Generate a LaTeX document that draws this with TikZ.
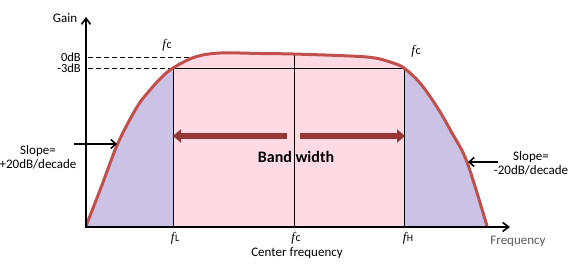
\documentclass[tikz,border=0pt]{standalone}
\usepackage{fontspec}
\setmainfont{Carlito}
\newfontfamily\serifit{Liberation Serif}
\usetikzlibrary{arrows.meta}
\definecolor{curvered}{RGB}{192,80,77}
\definecolor{lav}{RGB}{204,194,230}
\definecolor{pinkfill}{RGB}{253,218,228}
\definecolor{bwred}{RGB}{149,55,53}
\newcommand{\fsym}[2]{{\serifit\itshape\fontsize{13}{13}\selectfont f}\kern0.6pt{\fontsize{#2}{#2}\selectfont #1}}
\begin{document}
\begin{tikzpicture}[x=1pt,y=-1pt,
  lbl/.style={font=\fontsize{13}{14}\selectfont, inner sep=0pt, align=center},
  dblbl/.style={font=\fontsize{12.5}{13}\selectfont, inner sep=0pt, text height=8.5pt, text depth=0pt, anchor=east},
  thinline/.style={black, line width=0.9pt},
  dashline/.style={black, line width=0.9pt, dash pattern=on 5pt off 3pt},
  axisline/.style={black, line width=2pt, -{Straight Barb[length=6pt,width=9pt,line width=1.6pt]}},
  slopearrow/.style={black, line width=1.6pt, -{Straight Barb[length=5pt,width=9pt,line width=1.6pt]}},
  bwarrow/.style={bwred, line width=6.5pt, -{Triangle[length=8pt,width=13pt]}}]
\useasboundingbox (0,0) rectangle (574,272);
\def\curve{plot[smooth,tension=0.55] coordinates{(86,226) (102,185) (118,143) (137,107) (150,90) (162,77) (173,68) (195,57) (220,53) (260,53.5) (293,54) (350,56) (375,58) (393,63) (404,68) (420,83) (437,107) (452,133) (467,162) (487,226)}}
% fills
\begin{scope}\clip (80,0) rectangle (173,227); \fill[lav] \curve -- cycle; \end{scope}
\begin{scope}\clip (173,0) rectangle (404,227); \fill[pinkfill] \curve -- cycle; \end{scope}
\begin{scope}\clip (404,0) rectangle (500,227); \fill[lav] \curve -- cycle; \end{scope}
% coordinates
\coordinate (o) at (86,227);
\coordinate (ytip) at (86,17);
\coordinate (xtip) at (510,227);
\coordinate (d0a) at (88,57);
\coordinate (d0b) at (197,57);
\coordinate (d3a) at (88,68);
\coordinate (fLtop) at (173,68);
\coordinate (fHtop) at (404,68);
\coordinate (fLbot) at (173,227);
\coordinate (fHbot) at (404,227);
\coordinate (fCtop) at (294,54);
\coordinate (fCbot) at (294,227);
% guide lines
\draw[dashline] (d0a) -- (d0b);
\draw[dashline] (d3a) -- (fLtop);
\draw[thinline] (fLtop) -- (fHtop);
\draw[thinline] (fLtop) -- (fLbot);
\draw[thinline] (fHtop) -- (fHbot);
\draw[thinline] (fCtop) -- (fCbot);
% curve
\draw[curvered, line width=3pt, line join=round] \curve;
% axes
\draw[axisline] (o) -- (ytip);
\draw[axisline] ([xshift=-1pt]o) -- (xtip);
% labels
\node[lbl] (gain) at (65,18) {Gain};
\node[dblbl] (zero) at (81,57) {0dB};
\node[dblbl] (m3) at (81,68) {-3dB};
\node[lbl] (fc1) at (167,45) {\fsym{c}{12}};
\node[lbl] (fc2) at (416,51) {\fsym{c}{12}};
\node[lbl] (fL) at (175,238) {\fsym{L}{10}};
\node[lbl] (fC) at (296,238) {\fsym{c}{12}};
\node[lbl] (fH) at (408,238) {\fsym{H}{10}};
\node[lbl] (cf) at (297,253) {Center frequency};
\node[lbl, text=black!65] (freq) at (518,241) {Frequency};
\node[lbl] (sl1) at (38,157) {Slope=\\+20dB/decade};
\node[lbl] (sl2) at (531,163) {Slope=\\-20dB/decade};
\node[font=\bfseries\fontsize{16}{16}\selectfont, inner sep=0pt] (bw) at (296,157) {Band width};
% slope arrows
\coordinate (sa1s) at (74,144);
\coordinate (sa1e) at (117,144);
\coordinate (sa2s) at (498,162);
\coordinate (sa2e) at (468,162);
\draw[slopearrow] (sa1s) -- (sa1e);
\draw[slopearrow] (sa2s) -- (sa2e);
% bandwidth arrows
\coordinate (bwl) at (287,136);
\coordinate (bwlt) at (173,136);
\coordinate (bwr) at (300,136);
\coordinate (bwrt) at (405,136);
\draw[bwarrow] (bwl) -- (bwlt);
\draw[bwarrow] (bwr) -- (bwrt);
\end{tikzpicture}
\end{document}
